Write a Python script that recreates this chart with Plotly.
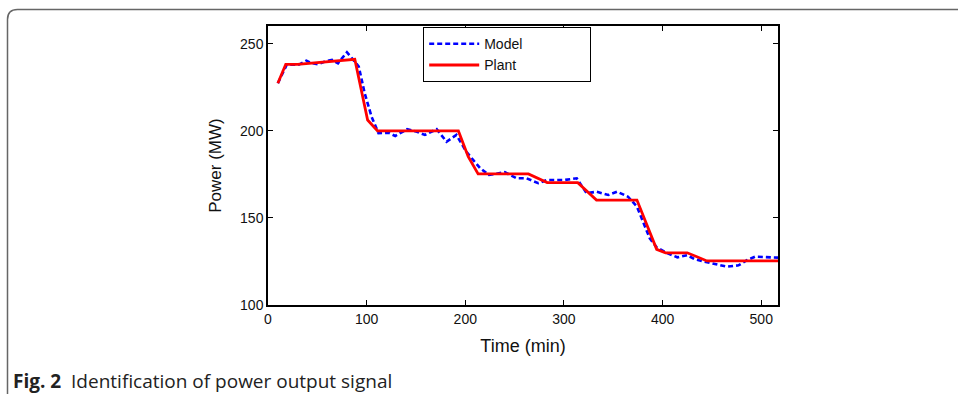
import plotly.graph_objects as go

# ---- data ----
plant_t = [10, 18, 30, 50, 70, 88, 101, 111, 193, 203, 213, 264, 283, 314, 333, 374, 394, 403, 425, 445, 517]
plant_p = [227.4, 238.3, 238.3, 239.2, 240.5, 241.2, 206.3, 200, 200, 185.2, 175.3, 175.3, 170.3, 170.3, 160.3, 160.3, 132, 130, 130, 125.3, 125.3]

model_t = [10, 19, 31, 39, 44, 51, 58, 65, 71, 80, 85, 92, 98, 105, 112, 122, 129, 141, 151, 159, 171, 181, 191, 201,
           215, 224, 240, 252, 262, 274, 283, 300, 313, 323, 333, 345, 354, 365, 374, 381, 387, 394, 404, 415, 425, 433,
           445, 455, 465, 477, 486, 494, 506, 517]
model_p = [227.4, 238.0, 238.0, 240.4, 239.0, 238.3, 240.0, 240.8, 238.9, 245.2, 241.8, 237.0, 221.7, 208.2, 198.7, 199.0,
           197.1, 201.0, 199.5, 197.7, 201.0, 193.8, 197.7, 188.1, 178.6, 174.7, 176.3, 172.8, 172.8, 170.0, 171.8, 171.8,
           172.8, 164.2, 165.1, 163.2, 165.1, 162.2, 156.5, 146.9, 138.3, 133.1, 130.0, 127.4, 128.6, 126.2, 124.5, 123.5,
           122.0, 122.8, 125.9, 127.8, 127.5, 127.2]

x_ticks = [0, 100, 200, 300, 400, 500]
y_ticks = [100, 150, 200, 250]

# plot area in pixels
W, H = 958, 394
L, R, T, B = 268, 778, 26, 305
pw, ph = R - L, B - T

def px(x):
    return (x - L) / pw

def py(y):
    return (B - y) / ph

pad = "\u00a0" * 16

fig = go.Figure()
fig.add_trace(go.Scatter(x=model_t, y=model_p, mode="lines", name="Model" + pad,
                         line=dict(color="#0000ff", width=2.6, dash="5px,3px")))
fig.add_trace(go.Scatter(x=plant_t, y=plant_p, mode="lines", name="Plant" + pad,
                         line=dict(color="#ff0000", width=2.8)))

axis_font = dict(family="Liberation Sans, Arial", size=14, color="#111")
fig.update_xaxes(range=[0, 517], tickvals=x_ticks, ticks="inside", ticklen=5, tickwidth=1,
                 tickcolor="black", showline=True, linecolor="black", linewidth=1.5, mirror="ticks",
                 showgrid=False, zeroline=False, tickfont=axis_font,
                 title=dict(text="Time (min)", font=dict(family="Liberation Sans, Arial", size=18, color="#111"), standoff=14))
fig.update_yaxes(range=[100, 260.3], tickvals=y_ticks, ticks="inside", ticklen=5, tickwidth=1,
                 tickcolor="black", showline=True, linecolor="black", linewidth=1.5, mirror="ticks",
                 showgrid=False, zeroline=False, tickfont=axis_font,
                 title=dict(text="Power (MW)", font=dict(family="Liberation Sans, Arial", size=17, color="#111"), standoff=14))

# frame with rounded top-left corner
r = 10
x0, y0 = 7.5, 9.5
path = (f"M {px(x0)},{py(H)} L {px(x0)},{py(y0 + r)} "
        f"Q {px(x0)},{py(y0)} {px(x0 + r)},{py(y0)} L {px(W)},{py(y0)}")
fig.add_shape(type="path", xref="paper", yref="paper", path=path,
              line=dict(color="#666", width=1.5))

fig.add_annotation(xref="paper", yref="paper", x=px(11), y=py(381), xanchor="left", yanchor="middle",
                   showarrow=False, align="left",
                   text="<b>Fig. 2</b>  Identification of power output signal",
                   font=dict(family="Open Sans", size=19, color="#222"))

fig.update_layout(
    width=W, height=H,
    margin=dict(l=L, r=W - R, t=T, b=H - B, autoexpand=False),
    plot_bgcolor="white", paper_bgcolor="white",
    showlegend=True,
    legend=dict(x=px(423), y=py(27), xanchor="left", yanchor="top", bordercolor="black", borderwidth=1.2,
                bgcolor="white", font=dict(family="Liberation Sans, Arial", size=14, color="#111"),
                itemwidth=50, tracegroupgap=0),
)

fig.write_html("out.html")
